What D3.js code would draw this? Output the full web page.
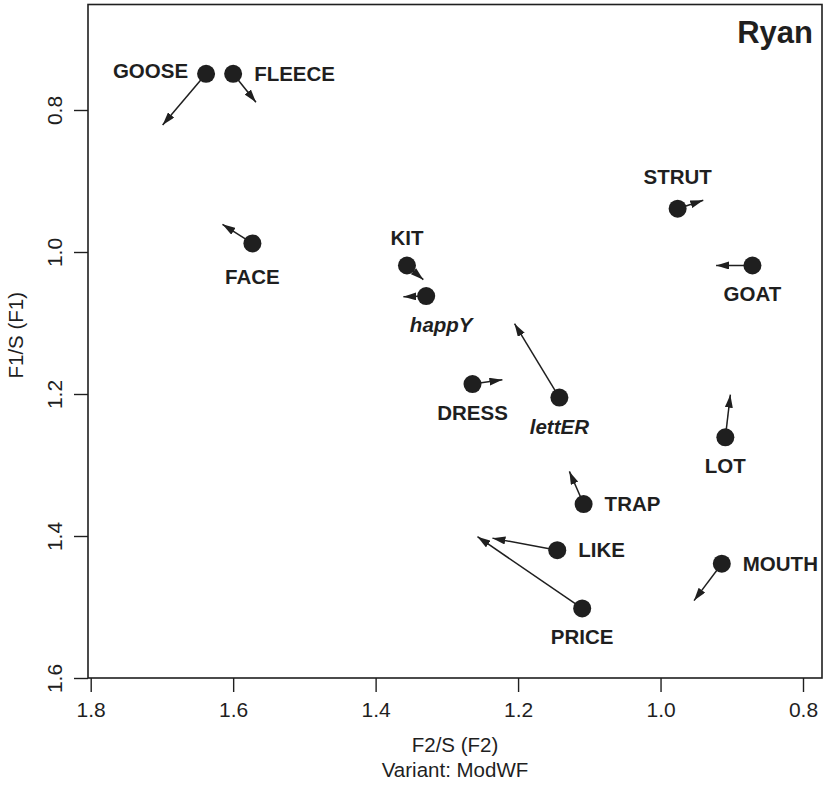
<!DOCTYPE html>
<html>
<head>
<meta charset="utf-8">
<script src="https://cdn.jsdelivr.net/npm/d3@7/dist/d3.min.js"></script>
<style>
  html, body { margin: 0; padding: 0; background: #fff; }
  svg { display: block; font-family: "Liberation Sans", Arial, Helvetica, sans-serif; }
</style>
</head>
<body>
<svg id="chart" width="827" height="785"></svg>
<script>
// Vowel means for speaker Ryan: F2/S on the x axis, F1/S on the y axis.
// Each arrow runs from the vowel's mean to its shifted position.
const words   = ["GOOSE", "FLEECE", "FACE", "KIT", "happY", "DRESS", "lettER",
                 "STRUT", "GOAT", "LOT", "TRAP", "LIKE", "PRICE", "MOUTH"];
const f2      = [1.638, 1.600, 1.573, 1.356, 1.329, 1.264, 1.142,
                 0.976, 0.871, 0.909, 1.108, 1.145, 1.110, 0.914];
const f1      = [0.749, 0.749, 0.988, 1.019, 1.062, 1.186, 1.205,
                 0.939, 1.019, 1.261, 1.355, 1.420, 1.502, 1.439];
const f2End   = [1.699, 1.568, 1.615, 1.333, 1.361, 1.222, 1.205,
                 0.940, 0.922, 0.902, 1.128, 1.236, 1.257, 0.953];
const f1End   = [0.821, 0.789, 0.961, 1.039, 1.063, 1.180, 1.101,
                 0.927, 1.019, 1.201, 1.309, 1.403, 1.401, 1.491];
// where each word's label sits relative to its point
const labelSide = ["left", "right", "below", "above", "below", "below", "below",
                   "above", "below", "below", "right", "right", "below", "right"];
const italicWords = ["happY", "lettER"];

const xTicks = [1.8, 1.6, 1.4, 1.2, 1.0, 0.8];
const yTicks = [0.8, 1.0, 1.2, 1.4, 1.6];

const speaker = "Ryan";
const xTitle = "F2/S (F2)";
const xSubtitle = "Variant: ModWF";
const yTitle = "F1/S (F1)";

const ink = "#1f1f1f";
const svg = d3.select("#chart");

// plotting frame
const frame = { left: 88, right: 822, top: 4.5, bottom: 678 };

const x = d3.scaleLinear().domain([1.8, 0.8]).range([90.7, 803]);
const y = d3.scaleLinear().domain([0.8, 1.6]).range([110, 678]);

// arrowhead marker
svg.append("defs").append("marker")
  .attr("id", "head")
  .attr("viewBox", "0 0 13 8")
  .attr("refX", 13).attr("refY", 4)
  .attr("markerWidth", 13).attr("markerHeight", 8)
  .attr("markerUnits", "userSpaceOnUse")
  .attr("orient", "auto")
  .append("path")
  .attr("d", "M0,0 L13,4 L0,8 Z")
  .attr("fill", ink);

// x axis
const gx = svg.append("g")
  .attr("transform", `translate(0,${frame.bottom})`)
  .call(d3.axisBottom(x).tickValues(xTicks).tickFormat(d3.format(".1f"))
        .tickSize(14).tickPadding(10));
gx.select(".domain").remove();
gx.selectAll("line").attr("stroke", ink).attr("stroke-width", 1.4);
gx.selectAll("text").attr("fill", ink).style("font-size", "21px");

// y axis, labels set parallel to the axis
const gy = svg.append("g")
  .attr("transform", `translate(${frame.left},0)`)
  .call(d3.axisLeft(y).tickValues(yTicks).tickFormat(d3.format(".1f")).tickSize(14));
gy.select(".domain").remove();
gy.selectAll("line").attr("stroke", ink).attr("stroke-width", 1.4);
gy.selectAll("text")
  .attr("x", null).attr("dy", null)
  .attr("text-anchor", "middle")
  .attr("transform", "translate(-26,0) rotate(-90)")
  .attr("fill", ink)
  .style("font-size", "21px");

// frame box
svg.append("rect")
  .attr("x", frame.left).attr("y", frame.top)
  .attr("width", frame.right - frame.left)
  .attr("height", frame.bottom - frame.top)
  .attr("fill", "none").attr("stroke", ink).attr("stroke-width", 1.6);

// axis titles
svg.append("text")
  .attr("x", (frame.left + frame.right) / 2).attr("y", 752)
  .attr("text-anchor", "middle").attr("fill", ink)
  .style("font-size", "20.5px").text(xTitle);
svg.append("text")
  .attr("x", (frame.left + frame.right) / 2).attr("y", 777)
  .attr("text-anchor", "middle").attr("fill", ink)
  .style("font-size", "20.5px").text(xSubtitle);
svg.append("text")
  .attr("transform", `translate(23,${(frame.top + frame.bottom) / 2 - 6}) rotate(-90)`)
  .attr("text-anchor", "middle").attr("fill", ink)
  .style("font-size", "20.5px").text(yTitle);

// speaker name
svg.append("text")
  .attr("x", 813).attr("y", 43)
  .attr("text-anchor", "end").attr("fill", ink)
  .style("font-size", "31px").style("font-weight", "bold")
  .text(speaker);

const rows = words.map((w, i) => ({
  word: w, x0: f2[i], y0: f1[i], x1: f2End[i], y1: f1End[i], side: labelSide[i]
}));

// shift arrows
svg.append("g").selectAll("line")
  .data(rows).join("line")
  .attr("x1", d => x(d.x0)).attr("y1", d => y(d.y0))
  .attr("x2", d => x(d.x1)).attr("y2", d => y(d.y1))
  .attr("stroke", ink).attr("stroke-width", 1.5)
  .attr("marker-end", "url(#head)");

// vowel points
svg.append("g").selectAll("circle")
  .data(rows).join("circle")
  .attr("cx", d => x(d.x0)).attr("cy", d => y(d.y0))
  .attr("r", 9).attr("fill", ink);

// word labels; a few are pushed clear of their arrows
const nudge = { happY: [15, 0], FACE: [0, 5], STRUT: [0, -5] };
const place = {
  below: { dx: 0, dy: 29 + 7, anchor: "middle" },
  above: { dx: 0, dy: -27 + 7, anchor: "middle" },
  left:  { dx: -18, dy: -3 + 7, anchor: "end" },
  right: { dx: 21, dy: 0 + 7, anchor: "start" }
};
svg.append("g").selectAll("text")
  .data(rows).join("text")
  .attr("x", d => x(d.x0) + place[d.side].dx + (nudge[d.word] || [0, 0])[0])
  .attr("y", d => y(d.y0) + place[d.side].dy + (nudge[d.word] || [0, 0])[1])
  .attr("text-anchor", d => place[d.side].anchor)
  .attr("fill", ink)
  .style("font-size", "20.5px").style("font-weight", "bold")
  .style("font-style", d => italicWords.includes(d.word) ? "italic" : "normal")
  .text(d => d.word);
</script>
</body>
</html>
